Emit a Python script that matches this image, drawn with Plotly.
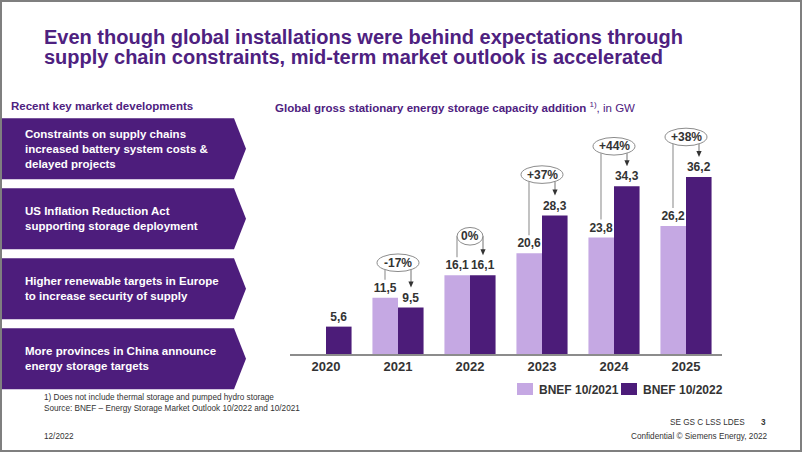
import math
import plotly.graph_objects as go

# ---------------- data ----------------
years = ["2020", "2021", "2022", "2023", "2024", "2025"]
bnef_2021 = [None, 11.5, 16.1, 20.6, 23.8, 26.2]
bnef_2022 = [5.6, 9.5, 16.1, 28.3, 34.3, 36.2]
changes = [None, "-17%", "0%", "+37%", "+44%", "+38%"]
series_names = ["BNEF 10/2021", "BNEF 10/2022"]

title_lines = [
    "Even though global installations were behind expectations through",
    "supply chain constraints, mid-term market outlook is accelerated",
]
side_heading = "Recent key market developments"
side_points = [
    "Constraints on supply chains<br>increased battery system costs &amp;<br>delayed projects",
    "US Inflation Reduction Act<br>supporting storage deployment",
    "Higher renewable targets in Europe<br>to increase security of supply",
    "More provinces in China announce<br>energy storage targets",
]
chart_title = "<b>Global gross stationary energy storage capacity addition</b> <sup>1)</sup>, in GW"
footnote_1 = "1) Does not include thermal storage and pumped hydro storage"
footnote_2 = "Source: BNEF \u2013 Energy Storage Market Outlook 10/2022 and 10/2021"
date_text = "12/2022"
doc_code = "SE GS C LSS LDES"
page_no = "3"
confidential = "Confidential \u00a9 Siemens Energy, 2022"

# ---------------- style ----------------
W, H = 802, 452
FONT = "Liberation Sans, Arial, sans-serif"
PURPLE = "#4e2180"
BOX = "#4d1d7c"
LIGHT = "#c5a8e3"
DARK = "#4c1c79"
TXT = "#333333"
GREY = "#8c8c8c"

def px(x):
    return x / W

def py(y):
    return 1 - y / H

Y_MAX = 48
X_LEFT, X_RIGHT = 290, 722
Y_BASE, PPU = 354, 4.89
CAT_W = (X_RIGHT - X_LEFT) / len(years)
Y_TOP = Y_BASE - Y_MAX * PPU

def fmt(v):
    return None if v is None else f"{v:.1f}".replace(".", ",")

fig = go.Figure()
for name, vals, col in [(series_names[0], bnef_2021, LIGHT), (series_names[1], bnef_2022, DARK)]:
    fig.add_trace(go.Bar(
        x=years, y=vals, name=name, marker=dict(color=col, line=dict(width=0)),
        text=[fmt(v) for v in vals], textposition="outside", constraintext="none",
        textfont=dict(family=FONT, size=12, color=TXT, weight="bold"),
        cliponaxis=False, showlegend=False, hoverinfo="x+y",
    ))

shapes = []
annotations = []

# frame
shapes.append(dict(type="rect", xref="paper", yref="paper", x0=px(1), x1=px(W - 1), y0=py(H - 1), y1=py(1),
                   line=dict(color="#7f7f7f", width=2), layer="above"))

# title
for line, yc in zip(title_lines, [36.5, 57]):
    annotations.append(dict(text=f"<b>{line}</b>", xref="paper", yref="paper", x=px(42), y=py(yc),
                            xanchor="left", yanchor="middle", showarrow=False,
                            font=dict(family=FONT, size=20, color=PURPLE)))

# left side heading
annotations.append(dict(text=f"<b>{side_heading}</b>", xref="paper", yref="paper", x=px(9), y=py(106),
                        xanchor="left", yanchor="middle", showarrow=False,
                        font=dict(family=FONT, size=11.5, color=PURPLE)))

# chevrons
box_tops = [118.3, 188.3, 258.3, 328.3]
box_h = 61
for top, txt in zip(box_tops, side_points):
    bot = top + box_h
    mid = (top + bot) / 2
    path = (f"M {px(0)},{py(top)} L {px(234)},{py(top)} L {px(246)},{py(mid)} "
            f"L {px(234)},{py(bot)} L {px(0)},{py(bot)} Z")
    shapes.append(dict(type="path", xref="paper", yref="paper", path=path,
                       fillcolor=BOX, line=dict(width=0), layer="below"))
    annotations.append(dict(text=f"<b>{txt}</b>", xref="paper", yref="paper", x=px(23), y=py(mid),
                            xanchor="left", yanchor="middle", align="left", showarrow=False,
                            font=dict(family=FONT, size=11.5, color="white")))

# chart title
annotations.append(dict(text=chart_title, xref="paper", yref="paper", x=px(273), y=py(106.5),
                        xanchor="left", yanchor="middle", showarrow=False,
                        font=dict(family=FONT, size=11.5, color=PURPLE)))

# change bubbles
bubble_lift_px = [0, 35, 39, 41, 40, 40]
OFF = 13  # px offset of bar centres from category centre
for i, ch in enumerate(changes):
    if ch is None:
        continue
    lo, hi = bnef_2021[i], bnef_2022[i]
    cy = max(lo, hi) + bubble_lift_px[i] / PPU
    a = 21 if len(ch) > 2 else 13
    b = 8.8
    shapes.append(dict(type="circle", xref="x", yref="y",
                       x0=i - a / CAT_W, x1=i + a / CAT_W, y0=cy - b / PPU, y1=cy + b / PPU,
                       line=dict(color=GREY, width=1), fillcolor="white", layer="above"))
    annotations.append(dict(text=f"<b>{ch}</b>", x=i, y=cy, xref="x", yref="y", showarrow=False,
                            font=dict(family=FONT, size=12, color=TXT)))
    dy = b * math.sqrt(max(0.0, 1 - (OFF / a) ** 2)) / PPU
    xl = i - OFF / CAT_W
    xr = i + OFF / CAT_W
    tip = hi + 20 / PPU
    shapes.append(dict(type="line", xref="x", yref="y", x0=xl, x1=xl, y0=cy - dy, y1=lo + 18 / PPU,
                       line=dict(color="#9a9a9a", width=1.2)))
    shapes.append(dict(type="line", xref="x", yref="y", x0=xr, x1=xr, y0=cy - dy, y1=tip + 5 / PPU,
                       line=dict(color="#8a8a8a", width=1.2)))
    head = (f"M {xr - 2.6 / CAT_W},{tip + 6 / PPU} L {xr + 2.6 / CAT_W},{tip + 6 / PPU} "
            f"L {xr},{tip} Z")
    shapes.append(dict(type="path", xref="x", yref="y", path=head,
                       fillcolor="#333333", line=dict(width=0)))

# legend (manual)
for (x0, x1, col, tx, name) in [(517, 533, LIGHT, 537, series_names[0]), (621, 637, DARK, 641, series_names[1])]:
    shapes.append(dict(type="rect", xref="paper", yref="paper", x0=px(x0), x1=px(x1), y0=py(395), y1=py(383),
                       fillcolor=col, line=dict(width=0)))
    annotations.append(dict(text=f"<b>{name}</b>", xref="paper", yref="paper", x=px(tx), y=py(389.5),
                            xanchor="left", yanchor="middle", showarrow=False,
                            font=dict(family=FONT, size=12, color=TXT)))

# footer
for txt, x, y, anchor, bold in [
    (footnote_1, 42, 397, "left", False),
    (footnote_2, 42, 408, "left", False),
    (date_text, 42, 436, "left", False),
    (doc_code, 747, 422, "right", False),
    (page_no, 768, 422, "right", True),
    (confidential, 768.5, 436, "right", False),
]:
    annotations.append(dict(text=f"<b>{txt}</b>" if bold else txt, xref="paper", yref="paper",
                            x=px(x), y=py(y), xanchor=anchor, yanchor="middle", showarrow=False,
                            font=dict(family=FONT, size=8.2, color=TXT)))

fig.update_layout(
    width=W, height=H, margin=dict(l=0, r=0, t=0, b=0),
    paper_bgcolor="white", plot_bgcolor="white",
    barmode="group", bargap=0.29, bargroupgap=0,
    showlegend=False,
    font=dict(family=FONT, color=TXT),
    xaxis=dict(domain=[px(X_LEFT), px(X_RIGHT)], type="category", range=[-0.5, len(years) - 0.5],
               showline=True, linecolor=GREY, linewidth=1.5, ticks="", showgrid=False, zeroline=False,
               tickfont=dict(family=FONT, size=13, color=TXT, weight="bold"), fixedrange=True),
    yaxis=dict(domain=[py(Y_BASE), py(Y_TOP)], range=[0, Y_MAX], visible=False, fixedrange=True),
    shapes=shapes, annotations=annotations,
)

fig.write_html("out.html", config={"displayModeBar": False},
               post_script="document.body.style.margin='0';document.body.style.overflow='hidden';")
